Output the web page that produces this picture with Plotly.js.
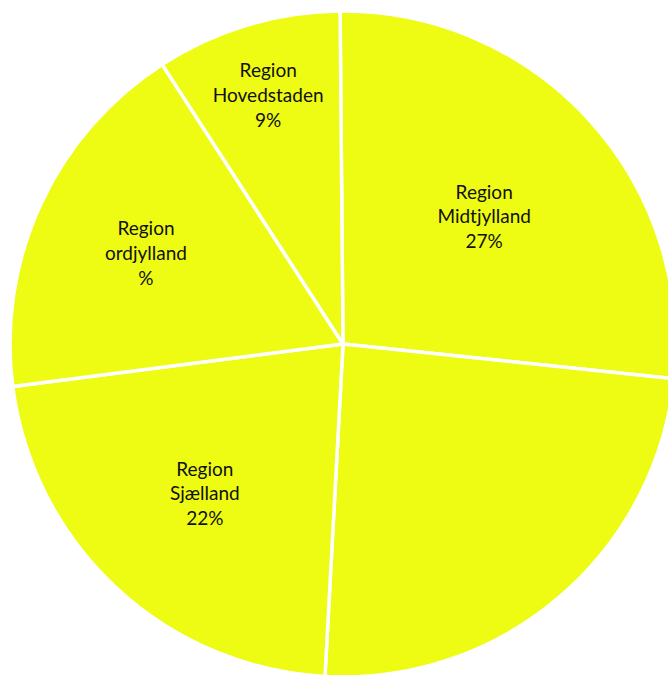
<!DOCTYPE html>
<html>
<head>
<meta charset="utf-8">
<script src="https://cdn.plot.ly/plotly-3.0.1.min.js"></script>
<style>
html,body{margin:0;padding:0;overflow:hidden;background:#fff;width:668px;height:675px;}
#chart{position:absolute;left:0;top:0;width:686px;height:690px;}
</style>
</head>
<body>
<div id="chart"></div>
<script>
const regions = ["Region Midtjylland", "Region Syddanmark", "Region Sjælland", "Region Nordjylland", "Region Hovedstaden"];
const shares = [26.8, 24.2, 22.1, 17.9, 9.0];
const sliceTexts = ["Region<br>Midtjylland<br>27%", "", "Region<br>Sjælland<br>22%", "Region<br>ordjylland<br>%", "Region<br>Hovedstaden<br>9%"];

const trace = {
  type: "pie",
  labels: regions,
  values: shares,
  text: sliceTexts,
  textinfo: "text",
  textposition: "inside",
  insidetextorientation: "horizontal",
  sort: false,
  direction: "clockwise",
  rotation: -0.5,
  marker: {colors: regions.map(() => "#eefb13"), line: {color: "#ffffff", width: 3.5}},
  textfont: {family: "Lato, sans-serif", size: 19, color: "#111111"},
  hoverinfo: "label+percent"
};

const layout = {
  width: 686, height: 690,
  margin: {l: 10, r: 10, t: 11, b: 13},
  showlegend: false,
  paper_bgcolor: "#ffffff",
  plot_bgcolor: "#ffffff"
};

Plotly.newPlot("chart", [trace], layout, {displayModeBar: false, staticPlot: true});
</script>
</body>
</html>
